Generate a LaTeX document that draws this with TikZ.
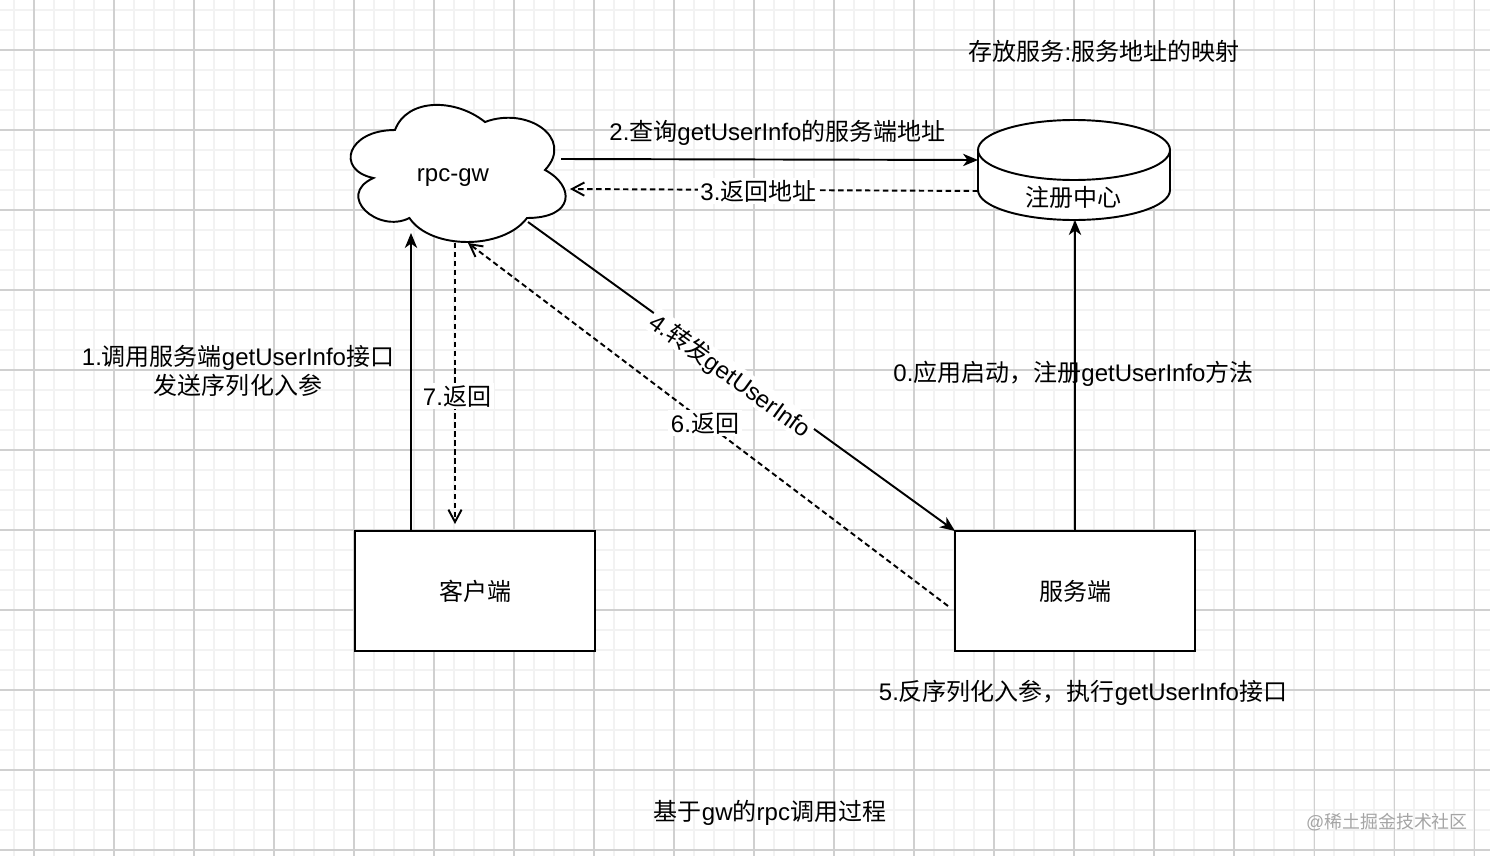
\documentclass[tikz,border=0pt]{standalone}
\usepackage{fontspec}
\setmainfont{Liberation Sans}
\newfontfamily\zhfont{Noto Sans CJK SC}
\usetikzlibrary{arrows.meta,backgrounds}
\pgfdeclarelayer{gridlayer}
\pgfdeclarelayer{edgelayer}
\pgfdeclarelayer{nodelayer}
\pgfsetlayers{gridlayer,edgelayer,nodelayer,main}
\definecolor{minorgrid}{RGB}{242,242,242}
\definecolor{majorgrid}{RGB}{208,208,208}
\definecolor{markgray}{RGB}{165,165,165}
\tikzset{font=\fontsize{13.66}{16.4}\selectfont}
\tikzstyle{none}=[inner sep=0pt]
\tikzstyle{lbl}=[inner sep=1.5pt,text height=10.9pt,text depth=0.55pt,align=center]
\tikzstyle{lblw}=[lbl,fill=white]
\tikzstyle{box}=[rectangle,draw,fill=white,line width=1.1pt,minimum width=4.8cm,minimum height=2.4cm,text height=10.9pt,text depth=0.55pt]
\tikzstyle{shapeline}=[line width=1.1pt,fill=white]
\tikzstyle{solidarrow}=[line width=1.1pt,-{Stealth[length=8.5pt,width=7pt,inset=2.5pt]}]
\tikzstyle{dasharrow}=[line width=1.1pt,dash pattern=on 3.1pt off 2pt,-{Straight Barb[length=7pt,width=7.5pt]}]

\begin{document}
\begin{tikzpicture}
	\useasboundingbox (0,0) rectangle (29.8,-17.12);
	\begin{pgfonlayer}{gridlayer}
		\fill[white] (0,0) rectangle (29.8,-17.12);
		\foreach \i in {0,...,73}
			\draw[minorgrid,line width=1.1pt] (0.28+0.4*\i,0) -- (0.28+0.4*\i,-17.12);
		\foreach \i in {0,...,42}
			\draw[minorgrid,line width=1.1pt] (0,-0.2-0.4*\i) -- (29.8,-0.2-0.4*\i);
		\foreach \i in {0,...,18}
			\draw[majorgrid,line width=0.6pt] (0.68+1.6*\i,0) -- (0.68+1.6*\i,-17.12);
		\foreach \i in {0,...,10}
			\draw[majorgrid,line width=0.6pt] (0,-1-1.6*\i) -- (29.8,-1-1.6*\i);
	\end{pgfonlayer}
	\begin{pgfonlayer}{nodelayer}
		% cloud
		\begin{scope}[shift={(6.7,-1.8)},x=4.8cm,y=-3.2cm]
			\draw[shapeline] (0.25,0.25) .. controls (0.05,0.25) and (0,0.5) .. (0.16,0.55)
				.. controls (0,0.66) and (0.18,0.9) .. (0.31,0.8)
				.. controls (0.4,1) and (0.7,1) .. (0.8,0.8)
				.. controls (1,0.8) and (1,0.6) .. (0.875,0.5)
				.. controls (1,0.3) and (0.8,0.1) .. (0.625,0.2)
				.. controls (0.5,0.05) and (0.3,0.05) .. cycle;
		\end{scope}
		% cylinder
		\draw[shapeline] (19.56,-3.0) -- (19.56,-3.8) arc[start angle=180,end angle=360,x radius=1.92,y radius=0.6]
			-- (23.4,-3.0) arc[start angle=0,end angle=180,x radius=1.92,y radius=0.6] -- cycle;
		\draw[line width=1.1pt] (19.56,-3.0) arc[start angle=180,end angle=360,x radius=1.92,y radius=0.6];

		\node [style=lbl] (0) at (9.06,-3.44) {rpc-gw};
		\node [style=box] (1) at (9.5,-11.82) {\zhfont 客户端};
		\node [style=box] (2) at (21.5,-11.82) {\zhfont 服务端};
		\node [style=lbl] (3) at (21.46,-3.94) {\zhfont 注册中心};

		\node [style=none] (10) at (8.22,-10.62) {};
		\node [style=none] (11) at (8.22,-4.66) {};
		\node [style=none] (12) at (11.22,-3.18) {};
		\node [style=none] (13) at (19.56,-3.2) {};
		\node [style=none] (14) at (19.56,-3.82) {};
		\node [style=none] (15) at (11.4,-3.78) {};
		\node [style=none] (16) at (10.56,-4.44) {};
		\node [style=none] (17) at (19.1,-10.62) {};
		\node [style=none] (18) at (18.96,-12.12) {};
		\node [style=none] (19) at (9.36,-4.86) {};
		\node [style=none] (20) at (9.1,-4.86) {};
		\node [style=none] (21) at (9.1,-10.48) {};
		\node [style=none] (22) at (21.5,-10.62) {};
		\node [style=none] (23) at (21.5,-4.4) {};

		\node [style=lbl] (30) at (4.76,-7.71) {1.{\zhfont 调用服务端}getUserInfo{\zhfont 接口}\\{\zhfont 发送序列化入参}};
		\node [style=lblw] (31) at (9.14,-7.92) {7.{\zhfont 返回}};
		\node [style=lbl] (32) at (15.55,-2.62) {2.{\zhfont 查询}getUserInfo{\zhfont 的服务端地址}};
		\node [style=lblw] (33) at (15.17,-3.82) {3.{\zhfont 返回地址}};
		\node [style=lblw,rotate=-35.9] (34) at (14.62,-7.5) {4.{\zhfont 转发}getUserInfo};
		\node [style=lblw] (35) at (14.1,-8.46) {6.{\zhfont 返回}};
		\node [style=lbl] (36) at (21.47,-7.44) {0.{\zhfont 应用启动，注册}getUserInfo{\zhfont 方法}};
		\node [style=lbl] (37) at (21.66,-13.82) {5.{\zhfont 反序列化入参，执行}getUserInfo{\zhfont 接口}};
		\node [style=lbl] (38) at (22.08,-1.02) {{\zhfont 存放服务}:{\zhfont 服务地址的映射}};
		\node [style=lbl] (39) at (15.4,-16.22) {{\zhfont 基于}gw{\zhfont 的}rpc{\zhfont 调用过程}};
		\node [inner sep=1pt,text=markgray,font=\fontsize{10.2}{12}\selectfont] (40) at (27.74,-16.44) {@{\zhfont 稀土掘金技术社区}};
	\end{pgfonlayer}
	\begin{pgfonlayer}{edgelayer}
		\draw [style=solidarrow] (10.center) to (11.center);
		\draw [style=solidarrow] (12.center) to (13.center);
		\draw [style=dasharrow] (14.center) to (15.center);
		\draw [style=solidarrow] (16.center) to (17.center);
		\draw [style=dasharrow] (18.center) to (19.center);
		\draw [style=dasharrow] (20.center) to (21.center);
		\draw [style=solidarrow] (22.center) to (23.center);
	\end{pgfonlayer}
\end{tikzpicture}
\end{document}
